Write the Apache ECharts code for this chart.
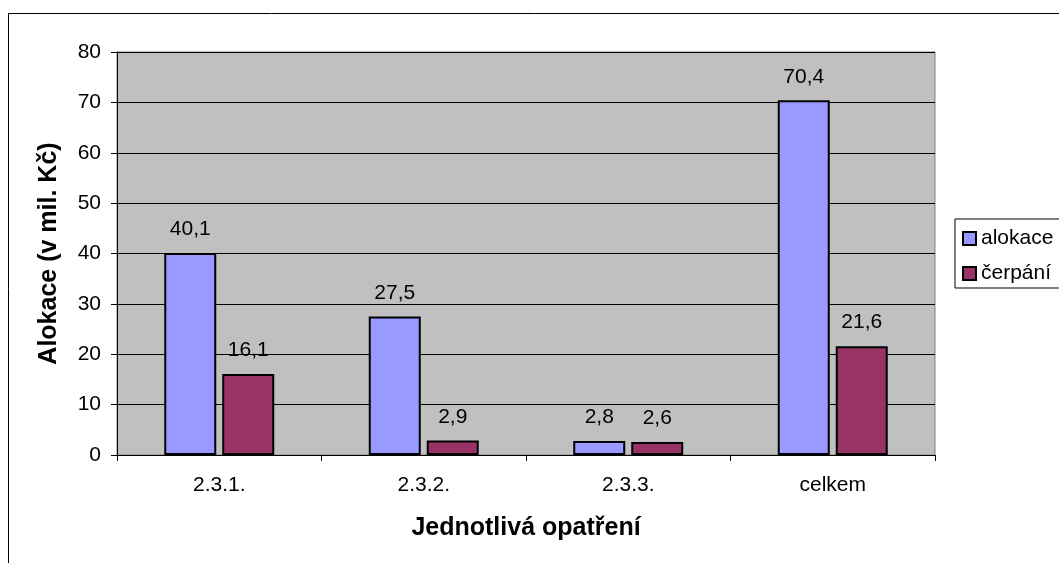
<!DOCTYPE html>
<html>
<head>
<meta charset="utf-8">
<script src="https://cdn.jsdelivr.net/npm/echarts@6/dist/echarts.min.js"></script>
<style>
  html, body { margin: 0; padding: 0; background: #fff; }
  #chart { width: 1059px; height: 563px; }
</style>
</head>
<body>
<div id="chart"></div>
<script>
const categories = ['2.3.1.', '2.3.2.', '2.3.3.', 'celkem']
const alokace = [40.1, 27.5, 2.8, 70.4]
const cerpani = [16.1, 2.9, 2.6, 21.6]
const seriesNames = ['alokace', 'čerpání']

const font = '"Liberation Sans", Arial, sans-serif'
const fmt = (p) => String(p.value).replace('.', ',')

const chart = echarts.init(document.getElementById('chart'), null, { renderer: 'canvas' })

chart.setOption({
  backgroundColor: '#fff',
  animation: false,
  textStyle: { fontFamily: font, color: '#000' },
  graphic: [
    {
      type: 'rect',
      shape: { x: 8.5, y: 13.5, width: 1100, height: 600 },
      style: { fill: 'none', stroke: '#000', lineWidth: 1 },
      silent: true,
      z: -1
    }
  ],
  grid: {
    left: 117, top: 52, right: 124, bottom: 108,
    show: true, backgroundColor: '#c0c0c0', borderColor: '#808080', borderWidth: 1
  },
  legend: {
    data: seriesNames,
    orient: 'vertical',
    left: 955, top: 219,
    icon: 'rect',
    itemWidth: 13, itemHeight: 13,
    itemGap: 14,
    itemStyle: { borderColor: '#000', borderWidth: 2 },
    textStyle: { fontSize: 21, fontFamily: font, color: '#000', lineHeight: 21 },
    backgroundColor: '#fff',
    borderColor: '#000', borderWidth: 1,
    borderRadius: 0,
    padding: [9, 30, 4, 7]
  },
  xAxis: {
    type: 'category',
    data: categories,
    name: 'Jednotlivá opatření',
    nameLocation: 'middle',
    nameGap: 61,
    nameTextStyle: { fontSize: 25, fontWeight: 'bold', fontFamily: font, color: '#000' },
    axisLine: { lineStyle: { color: '#000', width: 1 } },
    axisTick: { show: true, inside: false, length: 6, lineStyle: { color: '#000' } },
    axisLabel: { fontSize: 21, margin: 20, color: '#000', fontFamily: font }
  },
  yAxis: {
    type: 'value',
    min: 0, max: 80, interval: 10,
    name: 'Alokace (v mil. Kč)',
    nameLocation: 'middle',
    nameGap: 55,
    nameTextStyle: { fontSize: 25, fontWeight: 'bold', fontFamily: font, color: '#000' },
    axisLine: { show: true, lineStyle: { color: '#000', width: 1 } },
    axisTick: { show: true, length: 6, lineStyle: { color: '#000' } },
    axisLabel: { fontSize: 21, margin: 16, color: '#000', fontFamily: font },
    splitLine: { show: true, lineStyle: { color: '#000', width: 1 } }
  },
  series: [
    {
      name: seriesNames[0],
      type: 'bar',
      data: alokace,
      barWidth: 52,
      barGap: '11.5%',
      itemStyle: { color: '#9999ff', borderColor: '#000', borderWidth: 2 },
      label: { show: true, position: 'top', distance: 13, fontSize: 21, color: '#000', fontFamily: font, formatter: fmt }
    },
    {
      name: seriesNames[1],
      type: 'bar',
      data: cerpani,
      barWidth: 52,
      barGap: '11.5%',
      itemStyle: { color: '#993366', borderColor: '#000', borderWidth: 2 },
      label: { show: true, position: 'top', distance: 13, fontSize: 21, color: '#000', fontFamily: font, formatter: fmt }
    }
  ]
})
</script>
</body>
</html>
